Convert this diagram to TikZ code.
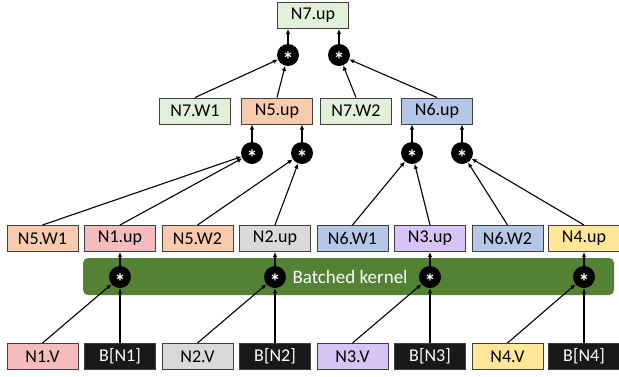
\documentclass[tikz,border=0pt]{standalone}
\usepackage{fontspec}
\setmainfont{Carlito}
\usetikzlibrary{arrows.meta}
\definecolor{nsevencol}{HTML}{E2F0D9}
\definecolor{nfivecol}{HTML}{F8CBAD}
\definecolor{nonecol}{HTML}{F5BCBC}
\definecolor{ntwocol}{HTML}{D9D9D9}
\definecolor{nsixcol}{HTML}{B4C7E7}
\definecolor{nthreecol}{HTML}{D5C4F5}
\definecolor{nfourcol}{HTML}{FFE699}
\definecolor{kernelcol}{HTML}{548235}
\newcommand{\mulsign}{\raisebox{-12pt}[0pt][0pt]{*}}
\begin{document}
\begin{tikzpicture}[x=1pt,y=-1pt,
  box/.style={draw=black!75,line width=1pt,minimum width=71pt,minimum height=26pt,inner sep=0pt,font=\fontsize{18}{21}\selectfont},
  bbox/.style={box,fill=black!90,text=white},
  mul/.style={circle,fill=black,minimum size=22pt,inner sep=0pt,text=white,font=\fontsize{22}{22}\selectfont\bfseries},
  link/.style={-{Latex[length=5pt,width=4.5pt]},line width=1.1pt}]
 \useasboundingbox (0,0) rectangle (619,376);

 % batched kernel
 \fill[kernelcol,rounded corners=5pt] (83,258) rectangle (614,295);
 \node[text=white,anchor=west,font=\fontsize{19}{22}\selectfont] (bk) at (289,277) {Batched kernel};

 % inputs
 \node[box,fill=nonecol]   (n1v) at (42.5,356.5)  {N1.V};
 \node[bbox]               (b1)  at (120,356.5)   {B[N1]};
 \node[box,fill=ntwocol]   (n2v) at (197.5,356.5) {N2.V};
 \node[bbox]               (b2)  at (275,356.5)   {B[N2]};
 \node[box,fill=nthreecol] (n3v) at (352.5,356.5) {N3.V};
 \node[bbox]               (b3)  at (430,356.5)   {B[N3]};
 \node[box,fill=nfourcol]  (n4v) at (507.5,356.5) {N4.V};
 \node[bbox]               (b4)  at (584,356.5)   {B[N4]};

 % kernel products
 \node[mul] (k1) at (120,277) {\mulsign};
 \node[mul] (k2) at (275,277) {\mulsign};
 \node[mul] (k3) at (430,277) {\mulsign};
 \node[mul] (k4) at (584,277) {\mulsign};

 % second row
 \node[box,fill=nfivecol]  (n5w1) at (42.5,238.5)  {N5.W1};
 \node[box,fill=nonecol]   (n1up) at (120,238.5)   {N1.up};
 \node[box,fill=nfivecol]  (n5w2) at (197.5,238.5) {N5.W2};
 \node[box,fill=ntwocol]   (n2up) at (275,238.5)   {N2.up};
 \node[box,fill=nsixcol]   (n6w1) at (352.5,238.5) {N6.W1};
 \node[box,fill=nthreecol] (n3up) at (430,238.5)   {N3.up};
 \node[box,fill=nsixcol]   (n6w2) at (507.5,238.5) {N6.W2};
 \node[box,fill=nfourcol]  (n4up) at (584,238.5)   {N4.up};

 \draw[link] (n1v.north) -- (k1);
 \draw[link] (b1) -- (k1);
 \draw[link] (k1) -- (n1up);
 \draw[link] (n2v.north) -- (k2);
 \draw[link] (b2) -- (k2);
 \draw[link] (k2) -- (n2up);
 \draw[link] (n3v.north) -- (k3);
 \draw[link] (b3) -- (k3);
 \draw[link] (k3) -- (n3up);
 \draw[link] (n4v.north) -- (k4);
 \draw[link] (b4) -- (k4);
 \draw[link] (k4) -- (n4up);

 % third row
 \node[mul] (m51) at (252,153) {\mulsign};
 \node[mul] (m52) at (302,153) {\mulsign};
 \node[mul] (m61) at (412,153) {\mulsign};
 \node[mul] (m62) at (462,153) {\mulsign};

 \node[box,fill=nsevencol] (n7w1) at (195,111) {N7.W1};
 \node[box,fill=nfivecol]  (n5up) at (277,111) {N5.up};
 \node[box,fill=nsevencol] (n7w2) at (356,111) {N7.W2};
 \node[box,fill=nsixcol]   (n6up) at (437,111) {N6.up};

 \draw[link] (n5w1.north) -- (m51);
 \draw[link] (n1up.north) -- (m51);
 \draw[link] (n5w2.north) -- (m52);
 \draw[link] (n2up.north) -- (m52);
 \draw[link] (n6w1.north) -- (m61);
 \draw[link] (n3up.north) -- (m61);
 \draw[link] (n6w2.north) -- (m62);
 \draw[link] (n4up.north) -- (m62);
 \draw[link] (m51) -- (m51 |- n5up.south);
 \draw[link] (m52) -- (m52 |- n5up.south);
 \draw[link] (m61) -- (m61 |- n6up.south);
 \draw[link] (m62) -- (m62 |- n6up.south);

 % top
 \node[mul] (m71) at (288,55) {\mulsign};
 \node[mul] (m72) at (339,55) {\mulsign};
 \node[box,fill=nsevencol] (n7up) at (313,15.5) {N7.up};

 \draw[link] (n7w1.north) -- (m71);
 \draw[link] (n5up.north) -- (m71);
 \draw[link] (n7w2.north) -- (m72);
 \draw[link] (n6up.north) -- (m72);
 \draw[link] (m71) -- (m71 |- n7up.south);
 \draw[link] (m72) -- (m72 |- n7up.south);
\end{tikzpicture}
\end{document}
